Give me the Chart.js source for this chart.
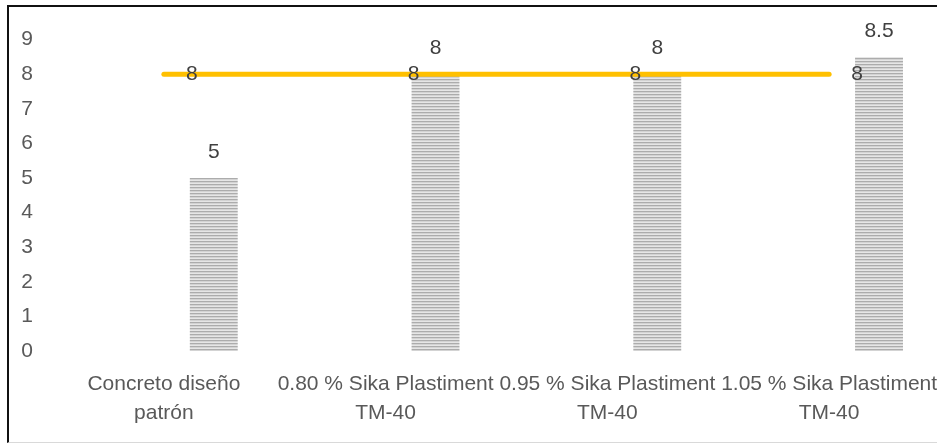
<!DOCTYPE html>
<html>
<head>
<meta charset="utf-8">
<script src="https://cdn.jsdelivr.net/npm/chart.js@4/dist/chart.umd.min.js"></script>
<style>
  html, body { margin: 0; padding: 0; background: #fff; overflow: hidden; width: 937px; height: 445px; }
  #frame {
    position: absolute; left: 7px; top: 5px;
    width: 960px; height: 435px;
    border-left: 2px solid #111; border-top: 2px solid #111; border-bottom: 1px solid #d9d9d9;
  }
  #frame canvas { display: block; }
</style>
</head>
<body>
<div id="frame"><canvas id="c" width="960" height="435"></canvas></div>
<script>
// Mezclas de concreto comparadas
const categories = [
  ["Concreto diseño", "patrón"],
  ["0.80 % Sika Plastiment", "TM-40"],
  ["0.95 % Sika Plastiment", "TM-40"],
  ["1.05 % Sika Plastiment", "TM-40"]
];
// Valor medido por mezcla (columnas)
const measured = [5, 8, 8, 8.5];
// Valor de referencia (línea)
const reference = [8, 8, 8, 8];
// Serie vacía del grupo de columnas
const emptySeries = [null, null, null, null];
// Eje vertical
const yTicks = [0, 1, 2, 3, 4, 5, 6, 7, 8, 9];

const FONT = "'Liberation Sans', Arial, sans-serif";

// Relleno rayado horizontal de las columnas
function stripePattern() {
  const p = document.createElement('canvas');
  p.width = 4; p.height = 3;
  const g = p.getContext('2d');
  const rows = ['#acacac', '#d3d3d3', '#e6e6e6'];
  rows.forEach((c, i) => { g.fillStyle = c; g.fillRect(0, i, 4, 1); });
  return g.createPattern(p, 'repeat');
}

// Etiquetas de valor sobre las columnas y junto a la línea
const valueLabels = {
  id: 'valueLabels',
  afterDatasetsDraw(chart) {
    const ctx = chart.ctx;
    ctx.save();
    ctx.font = "21px " + FONT;
    ctx.fillStyle = '#404040';
    ctx.textBaseline = 'middle';
    chart.data.datasets.forEach((ds, i) => {
      if (!ds.valueLabel) return;
      const meta = chart.getDatasetMeta(i);
      meta.data.forEach((el, j) => {
        const v = ds.data[j];
        if (v == null) return;
        if (ds.valueLabel === 'above') {
          ctx.textAlign = 'center';
          ctx.fillText(String(v), el.x, el.y - 26);
        } else {
          ctx.textAlign = 'left';
          ctx.fillText(String(v), el.x + 22, el.y);
        }
      });
    });
    ctx.restore();
  }
};

new Chart(document.getElementById('c'), {
  data: {
    labels: categories,
    datasets: [
      {
        type: 'line',
        label: 'Referencia',
        data: reference,
        borderColor: '#FFC000',
        borderWidth: 5,
        borderCapStyle: 'round',
        pointRadius: 0,
        pointHoverRadius: 0,
        fill: false,
        order: 0,
        valueLabel: 'right'
      },
      {
        type: 'bar',
        label: '',
        data: emptySeries,
        backgroundColor: 'rgba(0,0,0,0)',
        categoryPercentage: 0.9,
        barPercentage: 0.48,
        order: 1
      },
      {
        type: 'bar',
        label: 'Medido',
        data: measured,
        backgroundColor: stripePattern(),
        borderWidth: 0,
        categoryPercentage: 0.9,
        barPercentage: 0.48,
        order: 1,
        valueLabel: 'above'
      }
    ]
  },
  options: {
    responsive: false,
    animation: false,
    events: [],
    layout: { padding: { top: 31, right: 29, bottom: 0, left: 0 } },
    plugins: {
      legend: { display: false },
      tooltip: { enabled: false }
    },
    scales: {
      x: {
        offset: true,
        grid: { display: false, drawTicks: false },
        border: { display: false },
        ticks: {
          autoSkip: false,
          maxRotation: 0,
          minRotation: 0,
          padding: 19,
          color: '#595959',
          font: { family: FONT, size: 21, lineHeight: 1.36 }
        },
        afterFit(scale) { scale.height = 91; }
      },
      y: {
        min: yTicks[0],
        max: yTicks[yTicks.length - 1],
        grid: { display: false, drawTicks: false },
        border: { display: false },
        afterBuildTicks(scale) { scale.ticks = yTicks.map(v => ({ value: v })); },
        ticks: {
          padding: 20,
          color: '#595959',
          font: { family: FONT, size: 21 }
        },
        afterFit(scale) { scale.width = 44; }
      }
    }
  },
  plugins: [valueLabels]
});
</script>
</body>
</html>
